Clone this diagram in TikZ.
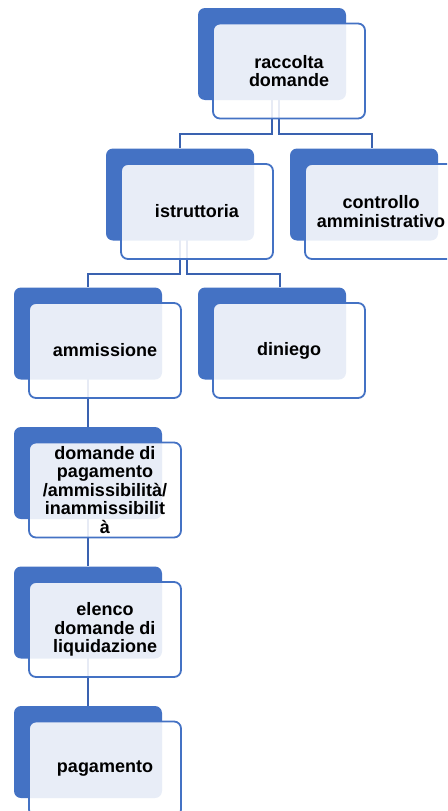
\documentclass[tikz,border=0pt]{standalone}
\usepackage{fontspec}
\setmainfont{Liberation Sans}
\usepackage{tikz}
\usetikzlibrary{positioning, backgrounds}
\definecolor{chartblue}{RGB}{68,114,196}
\definecolor{chartline}{RGB}{58,98,176}
\tikzstyle{backbox} = [rectangle, rounded corners=7pt, fill=chartblue,
minimum width=148pt, minimum height=92pt, inner sep=0pt]
\tikzstyle{textbox} = [rectangle, rounded corners=7pt,
fill=white, fill opacity=0.88, text opacity=1, draw=chartblue, line width=1.8pt,
minimum width=152pt, minimum height=95pt, inner sep=0pt,
align=center, font=\fontsize{18}{18.5}\selectfont\bfseries]
\tikzstyle{link} = [draw=chartline, line width=1.8pt]

\begin{document}
\begin{tikzpicture}[x=1pt, y=-1pt]
    \useasboundingbox (0,0) rectangle (447,811);
    \clip (0,0) rectangle (447,811);

    \node (raccoltaBack)    [backbox] at (272,54) {};
    \node (raccolta)        [textbox] at ([shift={(17,17)}]raccoltaBack) {raccolta\\domande};
    \node (istruttoriaBack) [backbox] at (180,194.5) {};
    \node (istruttoria)     [textbox] at ([shift={(17,17)}]istruttoriaBack) {istruttoria};
    \node (controlloBack)   [backbox] at (364,194.5) {};
    \node (controllo)       [textbox] at ([shift={(17,17)}]controlloBack) {controllo\\amministrativo};
    \node (ammissioneBack)  [backbox] at (88,333.5) {};
    \node (ammissione)      [textbox] at ([shift={(17,17)}]ammissioneBack) {ammissione};
    \node (diniegoBack)     [backbox] at (272,333.5) {};
    \node (diniego)         [textbox] at ([shift={(17,17)}]diniegoBack) {diniego};
    \node (domandeBack)     [backbox] at (88,473) {};
    \node (domande)         [textbox] at ([shift={(17,17)}]domandeBack)
    {domande di\\pagamento\\/ammissibilità/\\inammissibilit\\à};
    \node (elencoBack)      [backbox] at (88,612.5) {};
    \node (elenco)          [textbox] at ([shift={(17,17)}]elencoBack) {elenco\\domande di\\liquidazione};
    \node (pagamentoBack)   [backbox] at (88,752) {};
    \node (pagamento)       [textbox] at ([shift={(17,17)}]pagamentoBack) {pagamento};

    \begin{scope}[on background layer]
        \draw[link] (raccoltaBack.center) -- ++(0,80) -| (istruttoriaBack.north);
        \draw[link] ([xshift=7pt]raccoltaBack.center) -- ++(0,80) -| ([xshift=8pt]controlloBack.north);
        \draw[link] (istruttoriaBack.center) -- ++(0,79.5) -| (ammissioneBack.north);
        \draw[link] ([xshift=7pt]istruttoriaBack.center) -- ++(0,79.5) -| ([xshift=8pt]diniegoBack.north);
        \draw[link] (ammissioneBack.center) -- (domandeBack.north);
        \draw[link] (domandeBack.center)    -- (elencoBack.north);
        \draw[link] (elencoBack.center)     -- (pagamentoBack.north);
    \end{scope}
\end{tikzpicture}
\end{document}
